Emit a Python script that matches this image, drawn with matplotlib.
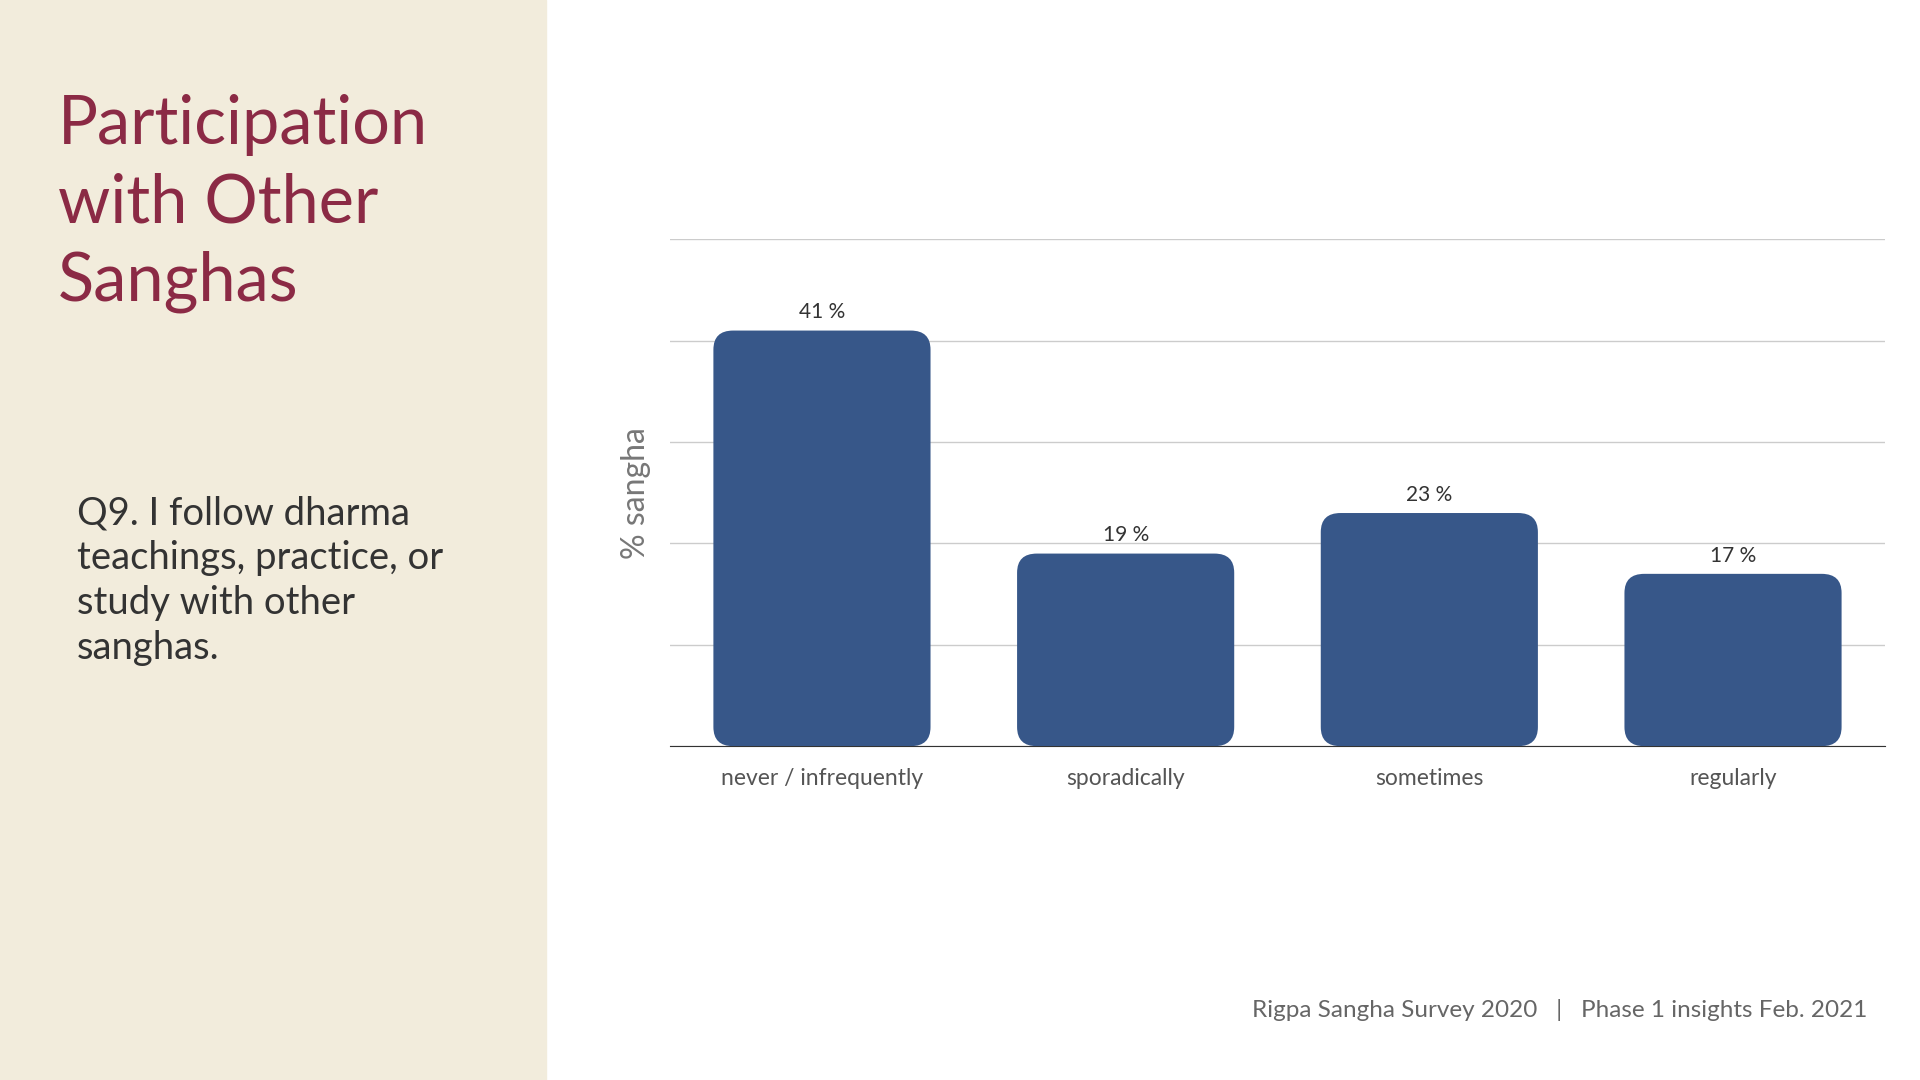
import matplotlib.pyplot as plt
from matplotlib.patches import FancyBboxPatch, Rectangle

categories = ["never / infrequently", "sporadically", "sometimes", "regularly"]
values = [41, 19, 23, 17]
value_labels = ["41 %", "19 %", "23 %", "17 %"]

W, H = 1530, 880
plt.rcParams["font.family"] = "Lato"

fig = plt.figure(figsize=(19.2, 10.8), dpi=100)
fig.patches.append(Rectangle((0, 0), 435 / W, 1, transform=fig.transFigure,
                             color="#f2ecdc", zorder=0))

fig.text(46 / W, 1 - 166 / H, "Participation\nwith Other\nSanghas", color="#8b2a45",
         fontsize=48, va="center", ha="left", linespacing=1.32)
fig.text(61 / W, 1 - 473 / H, "Q9. I follow dharma\nteachings, practice, or\nstudy with other\nsanghas.",
         color="#333333", fontsize=27.5, va="center", ha="left", linespacing=1.3)
fig.text(1488 / W, 1 - 823 / H, "Rigpa Sangha Survey 2020   |   Phase 1 insights Feb. 2021",
         color="#666666", fontsize=17.5, ha="right", va="center")

ax = fig.add_axes([534 / W, 1 - 608 / H, (1502 - 534) / W, (608 - 195) / H])
ax.set_xlim(-0.5, 3.5)
ax.set_ylim(0, 50)
ax.set_yticks(range(0, 51, 10))
ax.yaxis.grid(True, color="#cccccc", linewidth=1)
ax.set_axisbelow(True)
ax.tick_params(axis="y", left=False, labelleft=False)
ax.tick_params(axis="x", bottom=False, labelsize=16.5, labelcolor="#555555", pad=12)
for s in ["top", "right", "left"]:
    ax.spines[s].set_visible(False)
ax.spines["bottom"].set_color("#333333")
ax.set_xticks(range(len(categories)))
ax.set_xticklabels(categories)
ax.set_ylabel("% sangha", fontsize=23, color="#777777", labelpad=14)

width = 0.715
r = 0.065
for i, v in enumerate(values):
    ax.add_patch(FancyBboxPatch((i - width / 2 + r, r * 29), width - 2 * r, v - 2 * r * 29,
                                boxstyle=f"round,pad={r}", mutation_aspect=29,
                                facecolor="#375789", edgecolor="none", zorder=3))
    ax.text(i, v + 0.8, value_labels[i], ha="center", va="bottom", fontsize=15, color="#333333")

fig.savefig("out.png", dpi=100)
